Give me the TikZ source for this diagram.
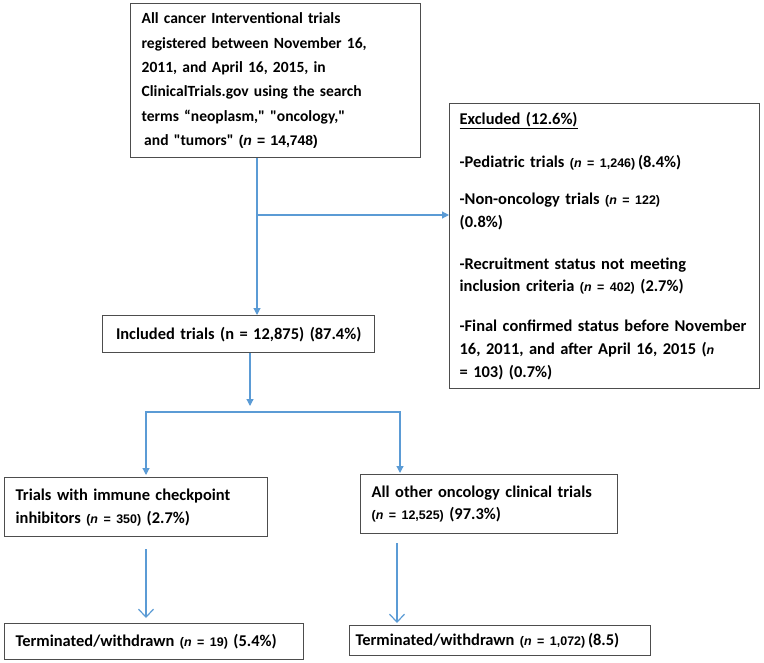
\documentclass[tikz,border=0pt]{standalone}
\usepackage{fontspec}
\setmainfont{Carlito}
\newfontfamily\arialfont{Liberation Sans}
\usetikzlibrary{arrows.meta}
\definecolor{flowblue}{HTML}{5B9BD5}
\definecolor{boxgray}{HTML}{4D4D4D}
% (n = ...) parts, set in a sans face
\newcommand{\nval}[2][12.5]{{\arialfont\fontsize{#1}{14}\selectfont(\textit{n} = #2)}}
\newcommand{\sq}{\textquotedbl}
\tikzset{
  flowbox/.style={draw=boxgray, line width=1.3bp, rectangle, anchor=north west,
    inner xsep=11bp, inner ysep=0bp, align=left,
    font=\bfseries\fontsize{16.5}{23}\selectfont},
  flowarrow/.style={draw=flowblue, line width=1.2bp, -{Triangle[width=7bp,length=7bp]}},
  openarrow/.style={draw=flowblue, line width=1.2bp, -{Straight Barb[width=15bp,length=8bp]}}
}
\begin{document}
\begin{tikzpicture}[x=1bp,y=-1bp]
\useasboundingbox (0,0) rectangle (764,663);
% boxes
\node [flowbox, text width=268bp, minimum height=154bp,
  font=\bfseries\fontsize{15.6}{24.5}\selectfont] (all) at (130,3)
  {All cancer Interventional trials\\
   registered between November 16,\\
   2011, and April 16, 2015, in\\
   ClinicalTrials.gov using the search\\
   terms ``neoplasm,\sq{} \sq{}oncology,\sq\\
   \,and \sq{}tumors\sq{} \nval[14]{14,748}};
\node [flowbox, text width=290bp, minimum height=285bp, inner xsep=10bp] (excl) at (449,103)
  {\underline{Excluded (12.6\%)}\\[20bp]
   -Pediatric trials \nval{1,246}\,(8.4\%)\\[14bp]
   -Non-oncology trials \nval{122}\\
   (0.8\%)\\[19bp]
   -Recruitment status not meeting\\
   inclusion criteria \nval{402} (2.7\%)\\[17bp]
   -Final confirmed status before November\\
   16, 2011, and after April 16, 2015 ({\arialfont\fontsize{12.5}{14}\selectfont\textit{n}}\\
   = 103) (0.7\%)};
\node [flowbox, text width=250bp, minimum height=37bp, align=center] (incl) at (102,315)
  {Included trials (n = 12,875) (87.4\%)};
\node [flowbox, text width=241bp, minimum height=59bp] (ici) at (4,477)
  {Trials with immune checkpoint\\
   inhibitors \nval{350} (2.7\%)};
\node [flowbox, text width=235bp, minimum height=59bp, font=\bfseries\fontsize{16.5}{22}\selectfont] (other) at (360,474)
  {All other oncology clinical trials\\
   \nval{12,525} (97.3\%)};
\node [flowbox, text width=277bp, minimum height=36bp] (termici) at (4,623)
  {Terminated/withdrawn \nval{19} (5.4\%)};
\node [flowbox, text width=289bp, minimum height=30bp, inner xsep=6bp] (termother) at (349,625)
  {Terminated/withdrawn \nval{1,072}\,(8.5)};
% connectors
\coordinate (branch) at (257,215);
\coordinate (split) at (250,412);
\coordinate (splitl) at (146,412);
\coordinate (splitr) at (400,412);
\draw [flowarrow] (branch |- all.south) -- (branch |- incl.north);
\draw [flowarrow] (branch) -- (branch -| excl.west);
\draw [flowarrow, shorten >=6bp] (split |- incl.south) -- (split);
\draw [draw=flowblue, line width=1.2bp, {Triangle[width=7bp,length=7bp]}-{Triangle[width=7bp,length=7bp]}]
  ([yshift=2bp]splitl |- ici.north) -- (splitl) -- (splitr) -- ([yshift=1bp]splitr |- other.north);
\draw [openarrow] ([yshift=-12bp]splitl |- ici.south) -- ([yshift=5bp]splitl |- termici.north);
\draw [openarrow] ([yshift=-9bp]397,0 |- other.south) -- ([yshift=2bp]397,0 |- termother.north);
\end{tikzpicture}
\end{document}
